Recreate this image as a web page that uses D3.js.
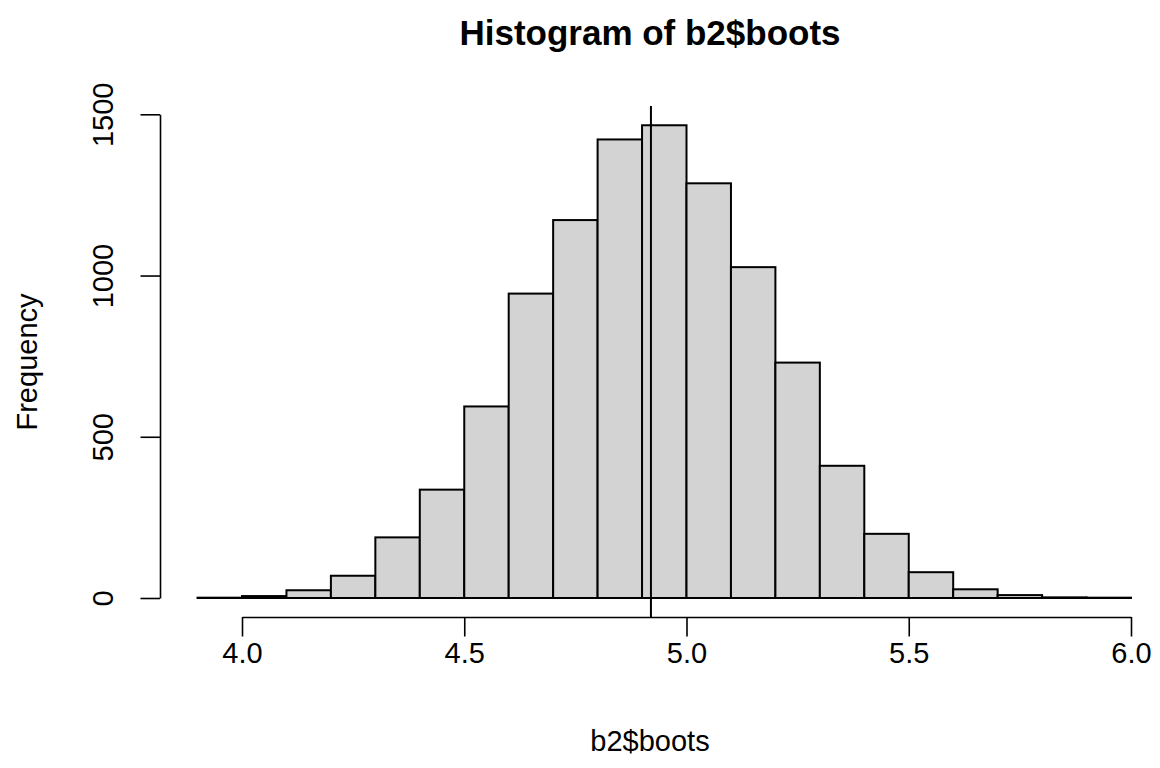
<!DOCTYPE html>
<html>
<head>
<meta charset="utf-8">
<script src="https://cdn.jsdelivr.net/npm/d3@7"></script>
<style>
  body { margin: 0; background: #fff; }
  svg text { font-family: "Liberation Sans", Arial, sans-serif; fill: #000; }
</style>
</head>
<body>
<svg id="chart" width="1160" height="768"></svg>
<script>
// bin edges (width 0.1) and counts
var breaks = [3.9, 4.0, 4.1, 4.2, 4.3, 4.4, 4.5, 4.6, 4.7, 4.8, 4.9, 5.0,
              5.1, 5.2, 5.3, 5.4, 5.5, 5.6, 5.7, 5.8, 5.9, 6.0];
var counts = [1, 6, 24, 69, 188, 336, 594, 944, 1172, 1422, 1466,
              1286, 1026, 730, 410, 199, 80, 27, 9, 2, 1];
var xTicks = [4.0, 4.5, 5.0, 5.5, 6.0];
var yTicks = [0, 500, 1000, 1500];
var markLine = 4.92;

var svg = d3.select("#chart");

// plot region
var x = d3.scaleLinear().domain([4, 6]).range([242, 1131]);
var y = d3.scaleLinear().domain([0, 1500]).range([598, 114.3]);
var plotTop = 106, plotBottom = 617;

var bins = counts.map(function(c, i) {
    return { x0: breaks[i], x1: breaks[i + 1], n: c };
});

// bars
svg.append("g")
    .selectAll("rect")
    .data(bins)
    .join("rect")
    .attr("x", function(d) { return x(d.x0); })
    .attr("y", function(d) { return y(d.n); })
    .attr("width", function(d) { return x(d.x1) - x(d.x0); })
    .attr("height", function(d) { return y(0) - y(d.n); })
    .attr("fill", "#d3d3d3")
    .attr("stroke", "#000")
    .attr("stroke-width", 2);

// vertical reference line (abline)
svg.append("line")
    .attr("x1", x(markLine)).attr("x2", x(markLine))
    .attr("y1", plotTop).attr("y2", plotBottom)
    .attr("stroke", "#000")
    .attr("stroke-width", 2);

// x axis
var gx = svg.append("g")
    .attr("transform", "translate(0," + plotBottom + ")")
    .call(d3.axisBottom(x).tickValues(xTicks).tickSize(19.5).tickSizeOuter(0)
        .tickFormat(d3.format(".1f")));
gx.selectAll("path, line").attr("stroke", "#000").attr("stroke-width", 1.6);
gx.selectAll("text")
    .attr("y", 36).attr("dy", "0.35em")
    .style("font-size", "29px");

// y axis
var gy = svg.append("g")
    .attr("transform", "translate(160,0)")
    .call(d3.axisLeft(y).tickValues(yTicks).tickSize(19.5).tickSizeOuter(0)
        .tickFormat(d3.format("d")));
gy.selectAll("path, line").attr("stroke", "#000").attr("stroke-width", 1.6);
gy.selectAll("text")
    .attr("x", null)
    .attr("text-anchor", "middle")
    .attr("transform", "translate(-57,0) rotate(-90)")
    .attr("dy", "0.35em")
    .style("font-size", "29px");

svg.selectAll(".domain").attr("fill", "none");

// title and axis titles
svg.append("text")
    .attr("x", 650).attr("y", 33).attr("dy", "0.35em")
    .attr("text-anchor", "middle")
    .style("font-size", "35px").style("font-weight", "bold")
    .text("Histogram of b2$boots");

svg.append("text")
    .attr("x", 650).attr("y", 741).attr("dy", "0.35em")
    .attr("text-anchor", "middle")
    .style("font-size", "29px")
    .text("b2$boots");

svg.append("text")
    .attr("transform", "translate(27,362) rotate(-90)")
    .attr("dy", "0.35em")
    .attr("text-anchor", "middle")
    .style("font-size", "29px")
    .text("Frequency");
</script>
</body>
</html>
